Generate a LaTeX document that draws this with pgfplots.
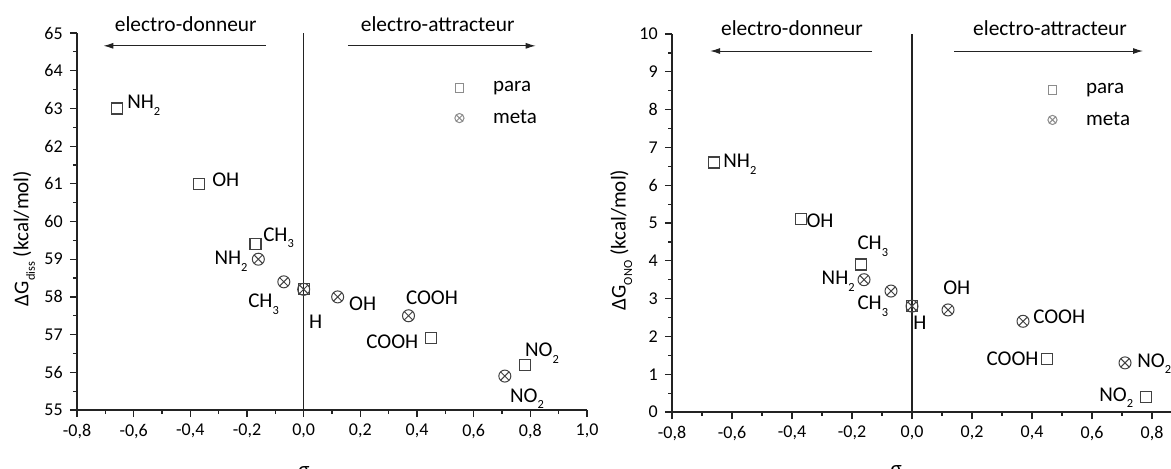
\documentclass[border=0pt]{standalone}
\usepackage{pgfplots}
\pgfplotsset{compat=1.18}
\usepackage{fontspec}
\setmainfont{Carlito}
\usetikzlibrary{arrows.meta}
\newcommand\sub[1]{\raisebox{-3.3pt}{\fontsize{6.2}{6.2}\selectfont #1}}
\newcommand\lab{\fontsize{10.5}{12}\selectfont}
\newcommand\ttl{\fontsize{10.7}{12}\selectfont}
\definecolor{axcol}{RGB}{35,35,35}
\definecolor{mk}{RGB}{65,65,65}
\definecolor{lg}{RGB}{140,140,140}

\pgfplotstableread{
x y
-0.66 63.0
-0.37 61.0
-0.17 59.4
0.00 58.2
0.45 56.9
0.78 56.2
}\leftpara
\pgfplotstableread{
x y
-0.16 59.0
-0.07 58.4
0.00 58.2
0.12 58.0
0.37 57.5
0.71 55.9
}\leftmeta
\pgfplotstableread{
x y
-0.66 6.6
-0.37 5.1
-0.17 3.9
0.00 2.8
0.45 1.4
0.78 0.4
}\rightpara
\pgfplotstableread{
x y
-0.16 3.5
-0.07 3.2
0.00 2.8
0.12 2.7
0.37 2.4
0.71 1.3
}\rightmeta

\pgfplotsset{
  base/.style={
    scale only axis,
    axis lines*=left,
    axis line style={axcol, line width=0.7pt},
    every tick/.style={axcol, line width=0.6pt},
    tick align=outside,
    major tick length=3.6pt,
    minor tick length=2pt,
    minor x tick num=1,
    minor y tick num=1,
    xmin=-0.8, xmax=1.0,
    xtick={-0.8,-0.6,-0.4,-0.2,0,0.2,0.4,0.6,0.8,1.0},
    clip=false,
    tick label style={font=\fontsize{9}{10}\selectfont, black},
    /pgf/number format/assume math mode=true,
    xticklabel style={/pgf/number format/.cd, fixed, fixed zerofill, precision=1, use comma},
    label style={font=\lab},
    legend style={draw=none, fill=none, font=\lab, row sep=3.5pt, cells={anchor=west}},
  },
  pstyle/.style={only marks, mark=square, mark size=2.75pt, mark options={mk, line width=0.6pt}},
  mstyle/.style={only marks, mark=otimes, mark size=3pt, mark options={mk, line width=0.5pt}},
  plegend/.style={legend image code/.code={\path[draw=none, fill=none] (0,-2pt) rectangle (0.72cm,2pt); \path[draw=none, fill=none] plot[mark=square, mark size=2.2pt, mark options={draw=lg, fill=none, line width=0.5pt}] coordinates {(0.2cm,0cm)};}},
  mlegend/.style={legend image code/.code={\path[draw=none, fill=none] (0,-2pt) rectangle (0.72cm,2pt); \path[draw=none, fill=none] plot[mark=otimes, mark size=2.3pt, mark options={draw=lg, fill=none, line width=0.5pt}] coordinates {(0.2cm,0cm)};}},
}

\begin{document}
\begin{tikzpicture}
\path[use as bounding box, clip] (0,0) rectangle (585.5pt,234pt);

% ---------------- left panel ----------------
\begin{axis}[base,
  at={(38.5pt,29pt)}, anchor=south west,
  width=255pt, height=188.5pt,
  ymin=55, ymax=65, ytick={55,56,...,65},
  ylabel={ΔG\sub{diss} (kcal/mol)},
  ylabel style={at={(axis description cs:-0.104,0.455)}, anchor=center, rotate=0},
  xlabel={σ},
  xlabel style={at={(axis description cs:0.445,-0.13)}, anchor=north},
  legend style={at={(axis cs:0.487,63.93)}, anchor=north west},
]
\addplot[pstyle, forget plot] table {\leftpara};
\addplot[mstyle, forget plot] table {\leftmeta};
\addlegendimage{plegend}
\addlegendentry{para}
\addlegendimage{mlegend}
\addlegendentry{meta}

\draw[axcol, line width=0.7pt] (axis cs:0,55) -- (axis cs:0,65);
\draw[axcol, line width=0.5pt, -{Latex[length=5pt,width=3pt]}] (axis cs:-0.133,64.66) -- (axis cs:-0.707,64.66);
\draw[axcol, line width=0.5pt, -{Latex[length=5pt,width=3pt]}] (axis cs:0.156,64.66) -- (axis cs:0.819,64.66);
\node[font=\ttl, anchor=base] at (axis cs:-0.416,65.05) {electro-donneur};
\node[font=\ttl, anchor=base] at (axis cs:0.473,65.05) {electro-attracteur};

\node[font=\lab, anchor=base west, inner sep=0pt] at (axis cs:-0.624,63.0) {NH\sub{2}};
\node[font=\lab, anchor=base west, inner sep=0pt] at (axis cs:-0.324,60.94) {OH};
\node[font=\lab, anchor=base west, inner sep=0pt] at (axis cs:-0.144,59.48) {CH\sub{3}};
\node[font=\lab, anchor=base east, inner sep=0pt] at (axis cs:-0.197,58.85) {NH\sub{2}};
\node[font=\lab, anchor=base west, inner sep=0pt] at (axis cs:-0.197,57.71) {CH\sub{3}};
\node[font=\lab, anchor=base west, inner sep=0pt] at (axis cs:0.018,57.15) {H};
\node[font=\lab, anchor=base west, inner sep=0pt] at (axis cs:0.159,57.65) {OH};
\node[font=\lab, anchor=base west, inner sep=0pt] at (axis cs:0.36,57.79) {COOH};
\node[font=\lab, anchor=base east, inner sep=0pt] at (axis cs:0.406,56.62) {COOH};
\node[font=\lab, anchor=base west, inner sep=0pt] at (axis cs:0.78,56.41) {NO\sub{2}};
\node[font=\lab, anchor=base west, inner sep=0pt] at (axis cs:0.727,55.21) {NO\sub{2}};
\end{axis}

% ---------------- right panel ----------------
\begin{axis}[base,
  at={(336pt,28pt)}, anchor=south west,
  width=270pt, height=189pt,
  ymin=0, ymax=10, ytick={0,1,...,10},
  ylabel={ΔG\sub{ONO} (kcal/mol)},
  ylabel style={at={(axis description cs:-0.094,0.455)}, anchor=center, rotate=0},
  xlabel={σ},
  xlabel style={at={(axis description cs:0.415,-0.124)}, anchor=north},
  legend style={at={(axis cs:0.409,8.91)}, anchor=north west},
]
\addplot[pstyle, forget plot] table {\rightpara};
\addplot[mstyle, forget plot] table {\rightmeta};
\addlegendimage{plegend}
\addlegendentry{para}
\addlegendimage{mlegend}
\addlegendentry{meta}

\draw[axcol, line width=0.7pt] (axis cs:0,0) -- (axis cs:0,10);
\draw[axcol, line width=0.5pt, -{Latex[length=5pt,width=3pt]}] (axis cs:-0.133,9.55) -- (axis cs:-0.673,9.55);
\draw[axcol, line width=0.5pt, -{Latex[length=5pt,width=3pt]}] (axis cs:0.14,9.55) -- (axis cs:0.77,9.55);
\node[font=\ttl, anchor=base] at (axis cs:-0.4,9.95) {electro-donneur};
\node[font=\ttl, anchor=base] at (axis cs:0.46,9.95) {electro-attracteur};

\node[font=\lab, anchor=base west, inner sep=0pt] at (axis cs:-0.63,6.46) {NH\sub{2}};
\node[font=\lab, anchor=base west, inner sep=0pt] at (axis cs:-0.353,4.87) {OH};
\node[font=\lab, anchor=base west, inner sep=0pt] at (axis cs:-0.183,4.29) {CH\sub{3}};
\node[font=\lab, anchor=base east, inner sep=0pt] at (axis cs:-0.19,3.36) {NH\sub{2}};
\node[font=\lab, anchor=base west, inner sep=0pt] at (axis cs:-0.183,2.70) {CH\sub{3}};
\node[font=\lab, anchor=base west, inner sep=0pt] at (axis cs:0.003,2.17) {H};
\node[font=\lab, anchor=base west, inner sep=0pt] at (axis cs:0.103,3.10) {OH};
\node[font=\lab, anchor=base west, inner sep=0pt] at (axis cs:0.403,2.33) {COOH};
\node[font=\lab, anchor=base east, inner sep=0pt] at (axis cs:0.423,1.24) {COOH};
\node[font=\lab, anchor=base west, inner sep=0pt] at (axis cs:0.75,1.19) {NO\sub{2}};
\node[font=\lab, anchor=base west, inner sep=0pt] at (axis cs:0.623,0.29) {NO\sub{2}};
\end{axis}
\end{tikzpicture}
\end{document}
